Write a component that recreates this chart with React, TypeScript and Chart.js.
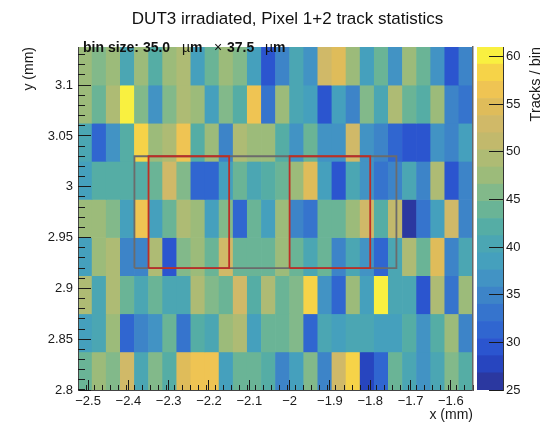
import React, { useEffect, useRef } from "react";
import { Chart, registerables } from "chart.js";

Chart.register(...registerables);

// Track counts per bin, top row first (y from 3.1375 down to 2.8)
const rowY3100 = [48, 46, 48, 40.5, 48, 42.5, 48, 50, 39, 44.5, 48, 46, 39, 29.5, 35, 40.5, 37, 53, 54, 48, 39, 44.5, 37, 48, 44.5, 37, 29.5, 35];
const rowY3063 = [48, 44.5, 50, 60.5, 46, 37, 46, 50, 48, 39, 46, 42, 56, 33, 48, 40.5, 38, 29.5, 38, 35, 46, 40.5, 50, 44.5, 42, 48, 35, 33];
const rowY3025 = [40.5, 31, 37, 42.5, 58, 48, 50, 56, 42, 48, 35, 50, 48, 48, 42.5, 37, 44.5, 37, 37, 53, 37, 35, 31, 29, 29.5, 37, 35, 39];
const rowY2988 = [39, 42, 42, 42.5, 42, 44.5, 53, 46, 31, 31, 39, 44.5, 40.5, 42, 44, 48, 54.5, 39, 29, 40.5, 37, 33, 35, 40.5, 35, 50, 29, 35];
const rowY2950 = [48, 48, 46, 38, 56.5, 38, 44.5, 50, 48, 39, 46, 31, 44.5, 39, 48, 35, 33, 44.5, 44.5, 48, 53, 42.5, 51, 26, 33, 38, 53, 35];
const rowY2913 = [39, 48, 50, 35, 35, 50, 29, 46, 48, 44.5, 53, 44.5, 44.5, 44.5, 48, 44.5, 40.5, 44.5, 35, 40.5, 37, 31, 40.5, 50, 44.5, 54.5, 35, 40.5];
const rowY2875 = [50, 40.5, 50, 44.5, 40.5, 44.5, 40.5, 40.5, 50, 46, 44.5, 53, 42.5, 50, 44.5, 46, 58, 37, 31, 48, 39, 59.5, 40.5, 40.5, 29.5, 50, 33, 48];
const rowY2838 = [39, 40.5, 48, 31, 35, 37, 44.5, 33, 42.5, 40.5, 48, 50, 39, 44.5, 44.5, 46, 31, 40.5, 39, 40.5, 40.5, 38, 38, 42.5, 37, 42.5, 48, 35];
const rowY2800 = [44.5, 48, 46, 53, 40.5, 46, 42.5, 54, 56, 56, 39, 44.5, 44.5, 42.5, 35, 39, 46, 35, 53, 58, 28, 31, 44.5, 40.5, 37, 40.5, 46, 42.5];
const rows = [rowY3100, rowY3063, rowY3025, rowY2988, rowY2950, rowY2913, rowY2875, rowY2838, rowY2800];

const palette = ["#2b38a0", "#2745bf", "#2b55cf", "#3066d0", "#3674cd", "#3d84c8", "#4293c4", "#45a0bd", "#4ba6b3", "#55ada5", "#6ab496", "#82b98a", "#9cbb7a", "#aebb74", "#c2b96c", "#d0b968", "#dfbc5a", "#efc453", "#f6d348", "#f9f040"];

const X_MIN = -2.525;
const X_MAX = -1.545;
const Y_MIN = 2.8;
const Y_MAX = 3.1375;
const BIN_X = 0.035;
const BIN_Y = 0.0375;
const Z_MIN = 25;
const Z_MAX = 61;
const zStep = (Z_MAX - Z_MIN) / palette.length;

const redBoxLeftX = [-2.35, -2.15, -2.15, -2.35, -2.35];
const redBoxRightX = [-2.0, -1.8, -1.8, -2.0, -2.0];
const grayBoxX = [-2.385, -1.735, -1.735, -2.385, -2.385];
const boxY = [2.92, 2.92, 3.03, 3.03, 2.92];

const colorFor = (v: number) => palette[Math.max(0, Math.min(palette.length - 1, Math.floor((v - Z_MIN) / zStep)))];
const ink = "#1a1a1a";
const fontFamily = "'Liberation Sans', Arial, sans-serif";

const textPlugin = {
  id: "freeText",
  afterDraw(chart: any) {
    const ctx = chart.ctx;
    ctx.save();
    ctx.fillStyle = "#111";
    ctx.textBaseline = "alphabetic";
    ctx.textAlign = "left";
    const bold = `bold 14px ${fontFamily}`;
    const regular = `14px ${fontFamily}`;
    const parts: [string, string, number][] = [
      ["bin size: 35.0", bold, 83],
      ["\u00b5", regular, 182],
      ["m", bold, 190],
      ["\u00d7", regular, 214],
      ["37.5", bold, 227],
      ["\u00b5", regular, 265],
      ["m", bold, 273],
    ];
    parts.forEach(([t, f, x]) => {
      ctx.font = f;
      ctx.fillText(t, x, 52);
    });
    ctx.font = `14.5px ${fontFamily}`;
    ctx.translate(536, 47);
    ctx.rotate(-Math.PI / 2);
    ctx.textAlign = "right";
    ctx.textBaseline = "middle";
    ctx.fillStyle = ink;
    ctx.fillText("Tracks / bin", 0, 0);
    ctx.restore();
  },
};

const titleShiftPlugin = {
  id: "titleShift",
  afterLayout(chart: any) {
    if (chart.titleBlock) {
      chart.titleBlock.left = 34;
      chart.titleBlock.right = 541;
    }
  },
};

const minus = (v: number) => {
  const s = String(Math.round(v * 1000) / 1000);
  return s.replace("-", "\u2212");
};

export default function App() {
  const mainRef = useRef<HTMLCanvasElement>(null);
  const barRef = useRef<HTMLCanvasElement>(null);

  useEffect(() => {
    const tickFont = { family: fontFamily, size: 13 };
    const heatDatasets: any[] = rows.map((row, r) => ({
      type: "bar",
      label: `row ${r}`,
      order: 3,
      grouped: false,
      barPercentage: 1,
      categoryPercentage: 1,
      borderWidth: 0,
      xAxisID: "x",
      yAxisID: "y",
      backgroundColor: row.map(colorFor),
      data: row.map((v, c) => ({
        x: X_MIN + (c + 0.5) * BIN_X,
        y: [Y_MAX - (r + 1) * BIN_Y, Y_MAX - r * BIN_Y],
        v,
      })),
    }));
    const box = (xs: number[], color: string, order: number) => ({
      type: "line",
      order,
      xAxisID: "x",
      yAxisID: "y",
      borderColor: color,
      borderWidth: 1.8,
      pointRadius: 0,
      fill: false,
      tension: 0,
      data: xs.map((x, i) => ({ x, y: boxY[i] })),
    });

    const main = new Chart(mainRef.current!, {
      type: "bar",
      data: {
        datasets: [
          ...heatDatasets,
          box(grayBoxX, "#6b6b6b", 2),
          box(redBoxLeftX, "#bd2e26", 1),
          box(redBoxRightX, "#bd2e26", 0),
        ],
      },
      options: {
        responsive: false,
        animation: false,
        layout: { padding: { left: 0, right: 68, top: 0, bottom: 0 } },
        plugins: {
          legend: { display: false },
          tooltip: { enabled: false },
          title: {
            display: true,
            text: "DUT3 irradiated, Pixel 1+2 track statistics",
            color: "#111",
            font: { family: fontFamily, size: 17, weight: "normal", lineHeight: 1.2 },
            padding: { top: 9.5, bottom: 17.1 },
          },
        },
        scales: {
          x: {
            type: "linear",
            min: X_MIN,
            max: X_MAX,
            offset: false,
            position: "bottom",
            afterFit: (s: any) => { s.height = 32; },
            grid: { display: true, offset: false, drawOnChartArea: false, tickLength: -10, tickColor: ink, z: 2 },
            border: { color: "#444", width: 1, z: 2 },
            ticks: {
              stepSize: 0.1,
              includeBounds: false,
              autoSkip: false,
              maxRotation: 0,
              padding: 13.5,
              color: ink,
              font: tickFont,
              callback: (v: any) => minus(Number(v)),
            },
            title: {
              display: true,
              text: "x (mm)",
              align: "end",
              color: ink,
              font: { family: fontFamily, size: 14, lineHeight: 1 },
              padding: { top: 0, bottom: 0 },
            },
          },
          xMinor: {
            type: "linear",
            min: X_MIN,
            max: X_MAX,
            offset: false,
            position: { y: Y_MIN },
            grid: { display: true, offset: false, drawOnChartArea: false, tickLength: -5, tickColor: ink, z: 2 },
            border: { display: false },
            ticks: { stepSize: 0.02, includeBounds: false, display: false },
          },
          y: {
            type: "linear",
            min: Y_MIN,
            max: Y_MAX,
            position: "left",
            beginAtZero: false,
            afterFit: (s: any) => { s.width = 78; },
            grid: { display: true, drawOnChartArea: false, tickLength: -13, tickColor: ink, z: 2 },
            border: { color: "#444", width: 1, z: 2 },
            ticks: {
              stepSize: 0.05,
              includeBounds: false,
              padding: 18,
              color: ink,
              font: tickFont,
              callback: (v: any) => minus(Number(v)),
            },
            title: {
              display: true,
              text: "y (mm)",
              align: "end",
              color: ink,
              font: { family: fontFamily, size: 14, lineHeight: 1.2 },
              padding: { top: 20.6, bottom: 0 },
            },
          },
          yMinor: {
            type: "linear",
            min: Y_MIN,
            max: Y_MAX,
            position: { x: X_MIN },
            beginAtZero: false,
            grid: { display: true, drawOnChartArea: false, tickLength: -7, tickColor: ink, z: 2 },
            border: { display: false },
            ticks: { stepSize: 0.01, includeBounds: false, display: false },
          },
          yRight: {
            type: "linear",
            min: Y_MIN,
            max: Y_MAX,
            position: { x: X_MAX },
            beginAtZero: false,
            grid: { display: false },
            border: { display: true, color: "#666", width: 1.5, z: 2 },
            ticks: { display: false },
          },
        },
      } as any,
      plugins: [titleShiftPlugin, textPlugin],
    } as any);

    const bar = new Chart(barRef.current!, {
      type: "bar",
      data: {
        labels: [""],
        datasets: palette.map((color, i) => ({
          label: `level ${i}`,
          grouped: false,
          barPercentage: 1,
          categoryPercentage: 1,
          borderWidth: 0,
          backgroundColor: color,
          data: [[Z_MIN + i * zStep, Z_MIN + (i + 1) * zStep]],
        })),
      } as any,
      options: {
        responsive: false,
        animation: false,
        layout: { padding: { top: 47, bottom: 32, left: 0, right: 0 } },
        plugins: { legend: { display: false }, tooltip: { enabled: false }, title: { display: false } },
        scales: {
          x: { display: false },
          y: {
            type: "linear",
            position: "right",
            min: Z_MIN,
            max: Z_MAX,
            beginAtZero: false,
            afterFit: (s: any) => { s.width = 38; },
            grid: { display: true, drawOnChartArea: false, tickLength: -14, tickColor: ink, z: 2 },
            border: { color: "#333", width: 1, z: 2 },
            ticks: {
              stepSize: 5,
              includeBounds: false,
              padding: 17,
              color: ink,
              font: tickFont,
            },
          },
        },
      } as any,
    } as any);

    return () => {
      main.destroy();
      bar.destroy();
    };
  }, []);

  return (
    <div style={{ position: "fixed", left: 0, top: 0, width: 541, height: 422, overflow: "hidden", background: "#fff" }}>
      <canvas ref={mainRef} width={541} height={422} style={{ position: "absolute", left: 0, top: 0 }} />
      <canvas ref={barRef} width={64} height={422} style={{ position: "absolute", left: 477, top: 0 }} />
    </div>
  );
}
